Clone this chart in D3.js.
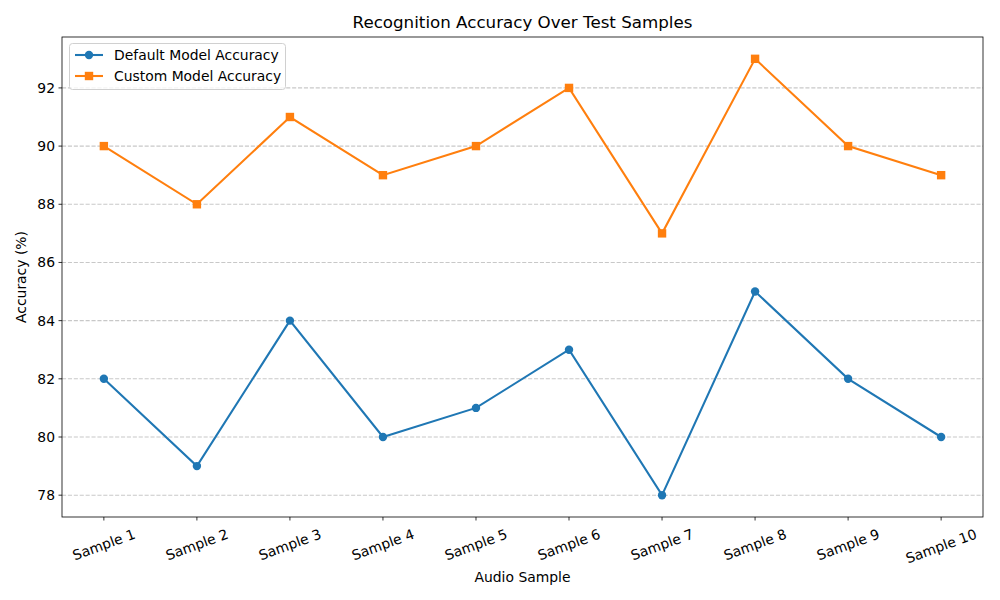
<!DOCTYPE html>
<html><head><meta charset="utf-8">
<script src="https://cdn.jsdelivr.net/npm/d3@7"></script>
<style>body{margin:0;background:#fff}text{font-family:"DejaVu Sans",sans-serif;fill:#000}</style>
</head><body><svg id="c" width="1000" height="600"></svg>
<script>
const categories = ["Sample 1","Sample 2","Sample 3","Sample 4","Sample 5","Sample 6","Sample 7","Sample 8","Sample 9","Sample 10"];
const defaultAcc = [82,79,84,80,81,83,78,85,82,80];
const customAcc = [90,88,91,89,90,92,87,93,90,89];
const yTicks = [78,80,82,84,86,88,90,92];
const seriesNames = ["Default Model Accuracy","Custom Model Accuracy"];
const colors = ["#1f77b4","#ff7f0e"];

const svg = d3.select("#c");
const L=62, R=983, T=37, B=517;
const x = d3.scaleLinear().domain([-0.45, 9.45]).range([L,R]);
const y = d3.scaleLinear().domain([77.25, 93.75]).range([B,T]);

// grid
svg.append("g").selectAll("line").data(yTicks).join("line")
  .attr("x1",L).attr("x2",R).attr("y1",d=>y(d)).attr("y2",d=>y(d))
  .attr("stroke","#b0b0b0").attr("stroke-opacity",0.7).attr("stroke-width",1.1)
  .attr("stroke-dasharray","4.1,1.8");

// y axis ticks
const gy = svg.append("g");
gy.selectAll("line").data(yTicks).join("line")
  .attr("x1",L-3.5).attr("x2",L).attr("y1",d=>y(d)).attr("y2",d=>y(d)).attr("stroke","#000").attr("stroke-width",0.8);
gy.selectAll("text").data(yTicks).join("text")
  .attr("x",L-7).attr("y",d=>y(d)).attr("text-anchor","end").attr("dominant-baseline","central")
  .style("font-size","13.9px").text(d=>d);

// x ticks
const gx = svg.append("g");
gx.selectAll("line").data(categories).join("line")
  .attr("x1",(d,i)=>x(i)).attr("x2",(d,i)=>x(i)).attr("y1",B).attr("y2",B+3.5).attr("stroke","#000").attr("stroke-width",0.8);
const sin=Math.sin(20*Math.PI/180), cos=Math.cos(20*Math.PI/180);
gx.selectAll("text").data(categories).join("text")
  .attr("text-anchor","middle").attr("dominant-baseline","central")
  .style("font-size","13.9px").text(d=>d)
  .each(function(d,i){
    const w=this.getComputedTextLength(), h=13.5;
    const cy = B+10 + (w*sin+h*cos)/2;
    d3.select(this).attr("transform",`translate(${x(i)},${cy}) rotate(-20)`);
  });

// frame
svg.append("rect").attr("x",L).attr("y",T).attr("width",R-L).attr("height",B-T)
  .attr("fill","none").attr("stroke","#000").attr("stroke-width",0.8);

// lines
const line = d3.line().x((d,i)=>x(i)).y(d=>y(d));
[defaultAcc, customAcc].forEach((data,k)=>{
  svg.append("path").datum(data).attr("d",line).attr("fill","none")
    .attr("stroke",colors[k]).attr("stroke-width",2.08);
  if(k===0){
    svg.append("g").selectAll("circle").data(data).join("circle")
      .attr("cx",(d,i)=>x(i)).attr("cy",d=>y(d)).attr("r",4.2).attr("fill",colors[k]);
  } else {
    svg.append("g").selectAll("rect").data(data).join("rect")
      .attr("x",(d,i)=>x(i)-4.2).attr("y",d=>y(d)-4.2).attr("width",8.4).attr("height",8.4).attr("fill",colors[k]);
  }
});

// titles
svg.append("text").attr("x",(L+R)/2).attr("y",22).attr("text-anchor","middle").attr("dominant-baseline","central")
  .style("font-size","16.7px").text("Recognition Accuracy Over Test Samples");
svg.append("text").attr("x",(L+R)/2).attr("y",577).attr("text-anchor","middle").attr("dominant-baseline","central")
  .style("font-size","13.9px").text("Audio Sample");
svg.append("text").attr("transform",`translate(21,${(T+B)/2}) rotate(-90)`).attr("text-anchor","middle").attr("dominant-baseline","central")
  .style("font-size","13.9px").text("Accuracy (%)");

// legend
const lg = svg.append("g");
lg.append("rect").attr("x",69.5).attr("y",43.5).attr("width",216).attr("height",46).attr("rx",3)
  .attr("fill","#fff").attr("fill-opacity",0.8).attr("stroke","#d0d0d0").attr("stroke-width",1);
seriesNames.forEach((n,k)=>{
  const ly = 55 + k*21;
  lg.append("line").attr("x1",75).attr("x2",103).attr("y1",ly).attr("y2",ly).attr("stroke",colors[k]).attr("stroke-width",2.08);
  if(k===0) lg.append("circle").attr("cx",89).attr("cy",ly).attr("r",4.2).attr("fill",colors[k]);
  else lg.append("rect").attr("x",89-4.2).attr("y",ly-4.2).attr("width",8.4).attr("height",8.4).attr("fill",colors[k]);
  lg.append("text").attr("x",114).attr("y",ly).attr("dominant-baseline","central").style("font-size","13.9px").text(n);
});
</script></body></html>
